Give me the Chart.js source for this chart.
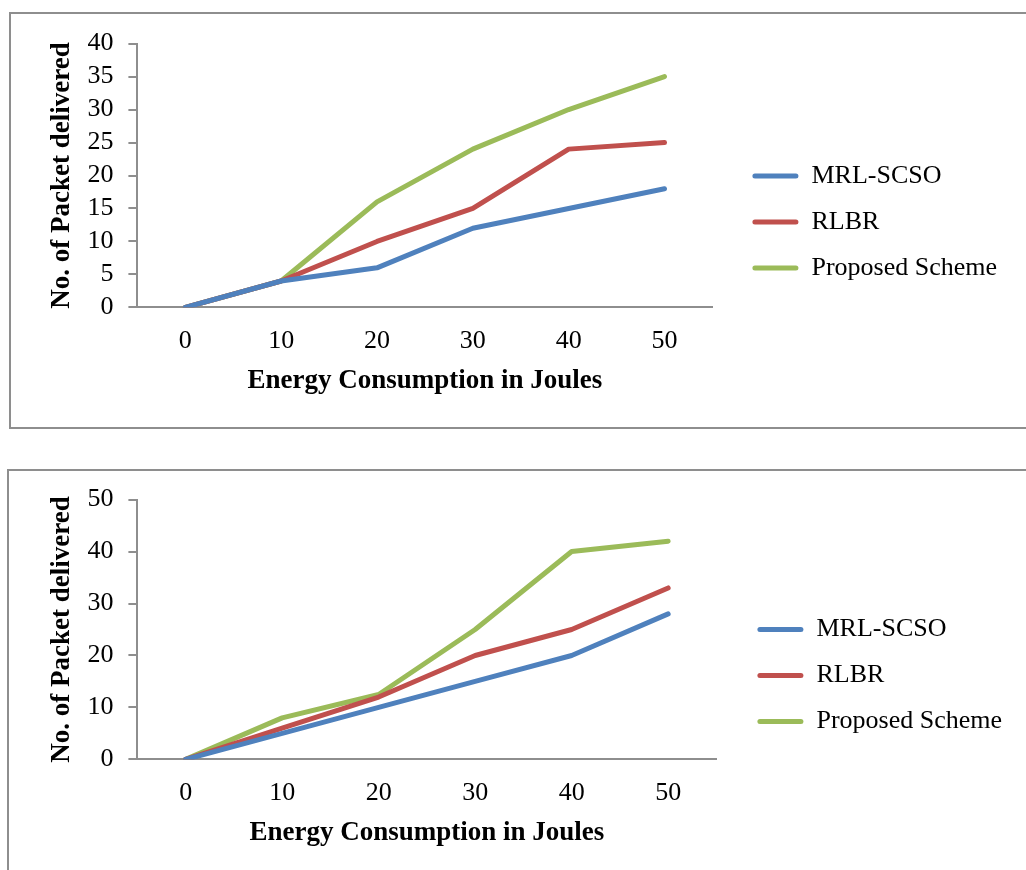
<!DOCTYPE html>
<html>

<head>
    <script src="https://cdn.jsdelivr.net/npm/chart.js@4.4.1/dist/chart.umd.min.js"></script>
    <style>
        body {
            margin: 0;
            width: 1026px;
            height: 870px;
            overflow: hidden;
            background: #ffffff;
            position: relative;
        }

        .frame {
            position: absolute;
            border: 2px solid #8e8e8e;
        }

        canvas {
            position: absolute;
        }
    </style>
</head>

<body>
    <div class="frame" style="left:9px; top:12px; width:1030px; height:413px;"></div>
    <div class="frame" style="left:7px; top:469px; width:1030px; height:420px;"></div>
    <canvas id="top-chart" width="1014" height="413" style="left:12px; top:13px;"></canvas>
    <canvas id="bottom-chart" width="1016" height="411" style="left:10px; top:469px;"></canvas>

    <script>
        const energy = ['0', '10', '20', '30', '40', '50']
        const seriesNames = ['MRL-SCSO', 'RLBR', 'Proposed Scheme']
        const colors = ['#4F81BD', '#C0504D', '#9BBB59']

        // first chart
        const topMrl = [0, 4, 6, 12, 15, 18]
        const topRlbr = [0, 4, 10, 15, 24, 25]
        const topProposed = [0, 4, 16, 24, 30, 35]

        // second chart
        const bottomMrl = [0, 5, 10, 15, 20, 28]
        const bottomRlbr = [0, 6, 12, 20, 25, 33]
        const bottomProposed = [0, 8, 12.5, 25, 40, 42]

        const font = 'Liberation Serif'

        // nudge the legend so there is a gap after the plot
        const legendShift = {
            id: 'legendShift',
            afterLayout: function (chart, args, opts) {
                chart.legend.left += opts.dx
                chart.legend.right += opts.dx
                chart.legend.top += opts.dy
                chart.legend.bottom += opts.dy
            }
        }

        function makeSets(values) {
            return values.map(function (v, i) {
                return {
                    label: seriesNames[i],
                    data: v,
                    borderColor: colors[i],
                    backgroundColor: colors[i],
                    borderWidth: 5,
                    borderCapStyle: 'round',
                    borderJoinStyle: 'round',
                    pointRadius: 0,
                    tension: 0
                }
            })
        }

        function makeChart(id, values, yMax, yStep, pad, dx, dy) {
            return new Chart(document.getElementById(id).getContext('2d'), {
                type: 'line',
                data: {
                    labels: energy,
                    datasets: makeSets(values)
                },
                options: {
                    responsive: false,
                    animation: false,
                    layout: {
                        padding: pad
                    },
                    plugins: {
                        legendShift: { dx: dx, dy: dy },
                        tooltip: { enabled: false },
                        legend: {
                            position: 'right',
                            maxWidth: 400,
                            labels: {
                                color: '#000000',
                                font: { family: font, size: 26 },
                                boxWidth: 46,
                                boxHeight: 5,
                                padding: 20,
                                useBorderRadius: true,
                                borderRadius: 2.5,
                                generateLabels: function (chart) {
                                    return Chart.defaults.plugins.legend.labels.generateLabels(chart).map(function (item) {
                                        item.lineWidth = 0
                                        return item
                                    })
                                }
                            }
                        }
                    },
                    scales: {
                        x: {
                            offset: true,
                            grid: { display: false, drawTicks: true, tickLength: 14 },
                            border: { color: '#8e8e8e', width: 2 },
                            ticks: {
                                color: '#000000',
                                font: { family: font, size: 26 },
                                padding: 4,
                                maxRotation: 0
                            },
                            title: {
                                display: true,
                                text: 'Energy Consumption in Joules',
                                color: '#000000',
                                font: { family: font, size: 27, weight: 'bold' },
                                padding: { top: 4, bottom: 4 }
                            }
                        },
                        y: {
                            min: 0,
                            max: yMax,
                            grid: {
                                drawOnChartArea: false,
                                drawTicks: true,
                                tickLength: 9,
                                color: '#8e8e8e',
                                lineWidth: 2
                            },
                            border: { color: '#8e8e8e', width: 2 },
                            ticks: {
                                stepSize: yStep,
                                autoSkip: false,
                                color: '#000000',
                                font: { family: font, size: 26 },
                                padding: 15
                            },
                            title: {
                                display: true,
                                text: 'No. of Packet delivered',
                                color: '#000000',
                                font: { family: font, size: 27, weight: 'bold' },
                                padding: { top: 4, bottom: -6 }
                            }
                        }
                    }
                },
                plugins: [legendShift]
            })
        }

        makeChart('top-chart', [topMrl, topRlbr, topProposed], 40, 5,
            { top: 8, left: 30, right: 39, bottom: 25 }, 20, 11)
        makeChart('bottom-chart', [bottomMrl, bottomRlbr, bottomProposed], 50, 10,
            { top: 5, left: 32, right: 35, bottom: 27 }, 21, 12)
    </script>
</body>

</html>
